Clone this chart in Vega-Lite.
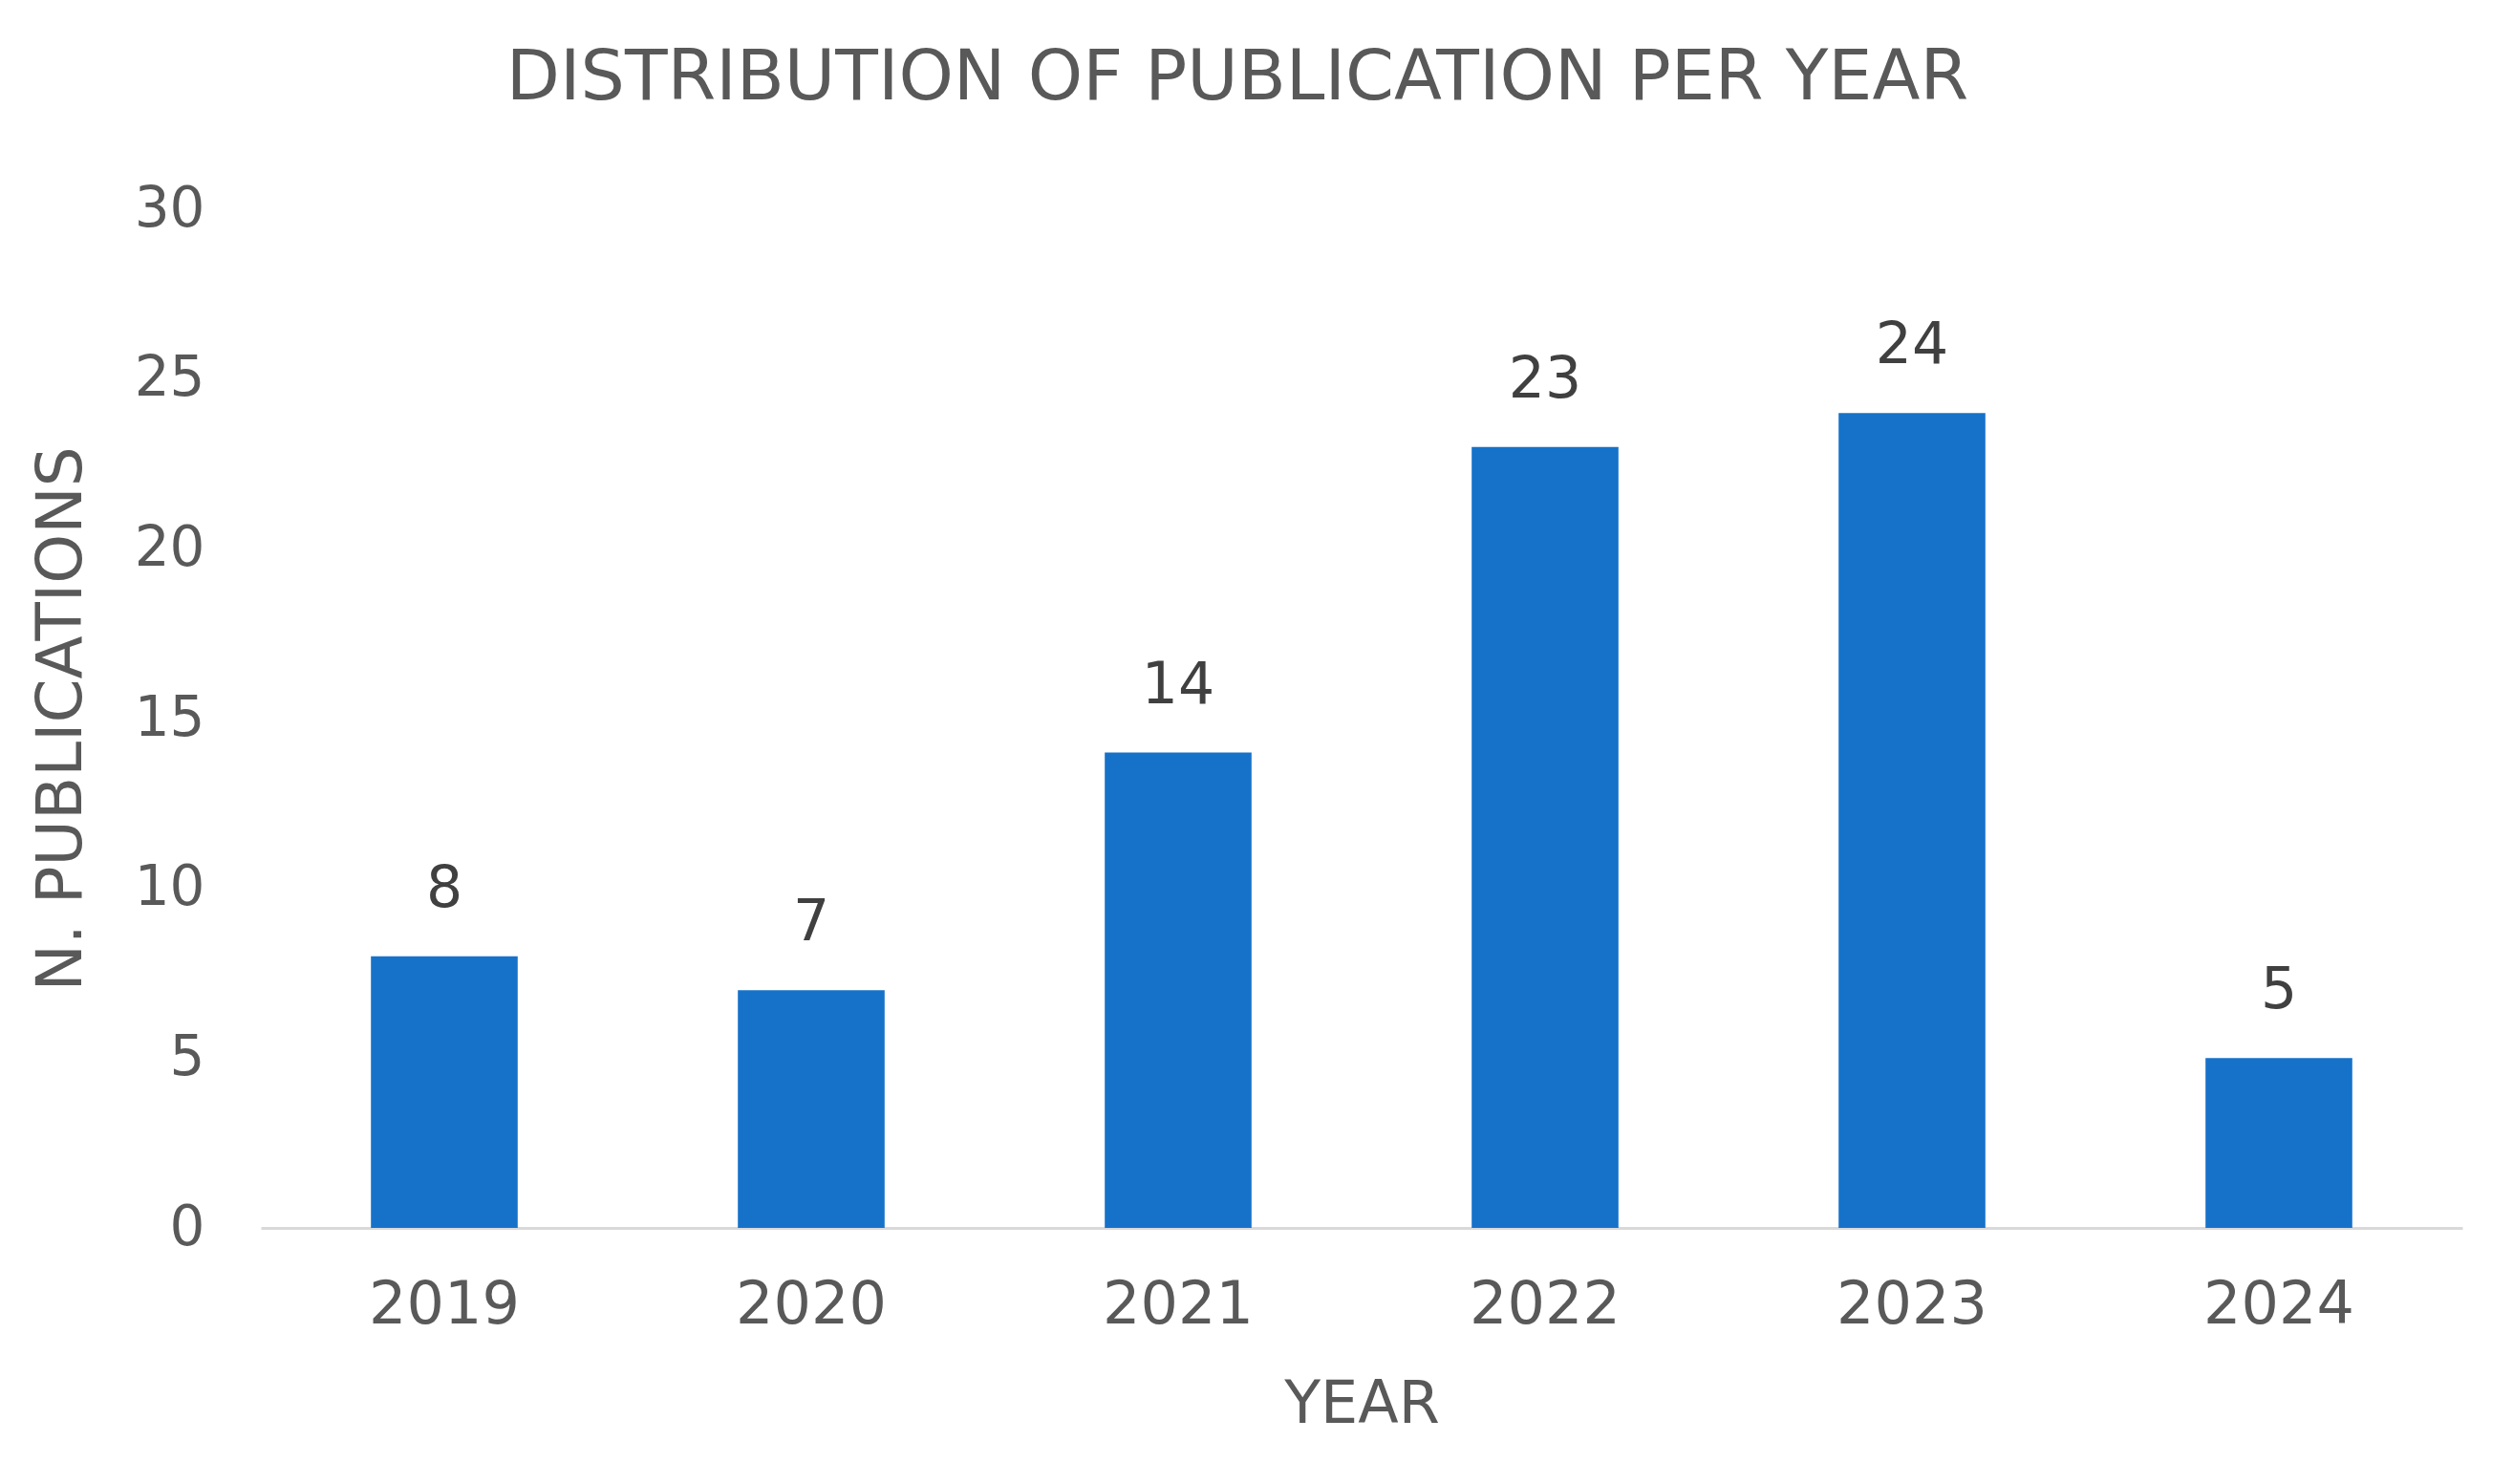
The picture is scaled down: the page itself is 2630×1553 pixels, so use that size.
{
  "$schema": "https://vega.github.io/schema/vega-lite/v6.json",
  "width": 2304,
  "height": 1066,
  "autosize": {"type": "none"},
  "padding": {"left": 273, "top": 219, "right": 53, "bottom": 268},
  "background": "white",
  "config": {"view": {"stroke": null}, "font": "DejaVu Sans"},
  "title": {
    "text": "DISTRIBUTION OF PUBLICATION PER YEAR",
    "fontSize": 73,
    "fontWeight": "normal",
    "color": "#595959",
    "offset": 71,
    "anchor": "middle",
    "frame": "group",
    "dx": -130
  },
  "data": {
    "values": [
      {"year": "2019", "count": 8},
      {"year": "2020", "count": 7},
      {"year": "2021", "count": 14},
      {"year": "2022", "count": 23},
      {"year": "2023", "count": 24},
      {"year": "2024", "count": 5}
    ]
  },
  "encoding": {
    "x": {
      "field": "year",
      "type": "ordinal",
      "scale": {"paddingInner": 0.6, "paddingOuter": 0.3},
      "axis": {
        "title": "YEAR",
        "titleFontSize": 62,
        "titleFontWeight": "normal",
        "titleColor": "#595959",
        "titlePadding": 43,
        "labelFontSize": 62,
        "labelColor": "#595959",
        "labelAngle": 0,
        "labelPadding": 50,
        "ticks": false,
        "grid": false,
        "domainColor": "#D9D9D9",
        "domainWidth": 3
      }
    },
    "y": {
      "field": "count",
      "type": "quantitative",
      "scale": {"domain": [0, 30]},
      "axis": {
        "title": "N. PUBLICATIONS",
        "titleFontSize": 66,
        "titleFontWeight": "normal",
        "titleColor": "#595959",
        "titlePadding": 42,
        "values": [0, 5, 10, 15, 20, 25, 30],
        "labelFontSize": 58,
        "labelColor": "#595959",
        "labelPadding": 59,
        "ticks": false,
        "grid": false,
        "domain": false
      }
    }
  },
  "layer": [
    {"mark": {"type": "bar", "color": "#1672C9"}},
    {
      "mark": {
        "type": "text",
        "baseline": "alphabetic",
        "dy": -52,
        "fontSize": 60,
        "color": "#404040"
      },
      "encoding": {"text": {"field": "count", "type": "quantitative"}}
    }
  ]
}
